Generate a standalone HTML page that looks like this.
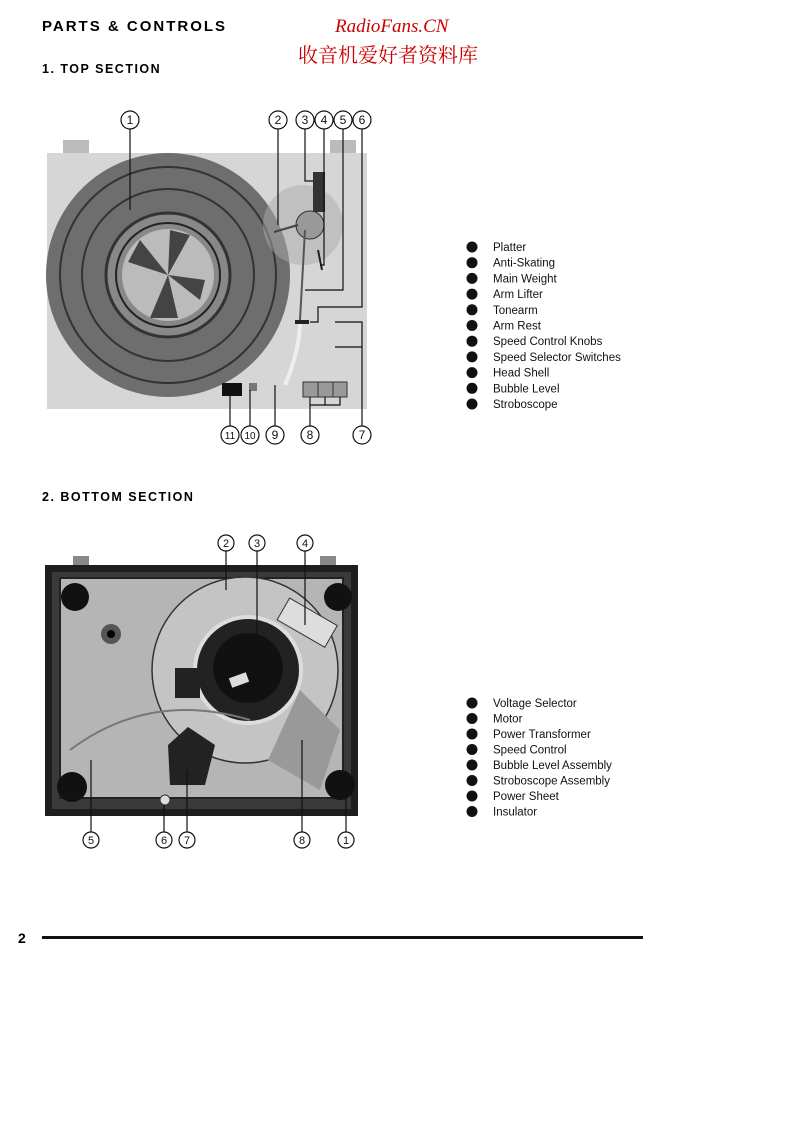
<!DOCTYPE html>
<html><head><meta charset="utf-8"><style>
body{margin:0;background:#fff;width:793px;height:1122px;overflow:hidden;position:relative;font-family:"Liberation Sans",sans-serif}
.t{position:absolute;white-space:nowrap}
</style></head><body>
<div class="t" style="left:42px;top:18px;font-size:15px;font-weight:bold;letter-spacing:2px">PARTS &amp; CONTROLS</div>
<div class="t" style="left:42px;top:62px;font-size:12.5px;font-weight:bold;letter-spacing:1.5px">1. TOP SECTION</div>
<div class="t" style="left:335px;top:16px;font-size:19px;font-style:italic;color:#c00;font-family:'Liberation Serif',serif">RadioFans.CN</div>
<div class="t" style="left:298px;top:39px;font-size:20px;color:#c00;font-family:'Liberation Serif','Noto Serif CJK SC',serif">收音机爱好者资料库</div>
<div class="t" style="left:42px;top:490px;font-size:12.5px;font-weight:bold;letter-spacing:1.5px">2. BOTTOM SECTION</div>
<div class="t" style="left:18px;top:930px;font-size:14px;font-weight:bold">2</div>
<div style="position:absolute;left:42px;top:936px;width:601px;height:3px;background:#111"></div>

<svg width="793" height="1122" style="position:absolute;left:0;top:0" font-family="Liberation Sans, sans-serif">
<rect x="63" y="140" width="26" height="16" fill="#bbb"/><rect x="330" y="140" width="26" height="16" fill="#bbb"/>
<rect x="47" y="153" width="320" height="256" fill="#d6d6d6"/>
<circle cx="168" cy="275" r="122" fill="#6e6e6e"/>
<circle cx="168" cy="275" r="108" fill="none" stroke="#333" stroke-width="2"/>
<circle cx="168" cy="275" r="86" fill="none" stroke="#333" stroke-width="2"/>
<circle cx="168" cy="275" r="62" fill="#888" stroke="#333" stroke-width="3"/>
<circle cx="168" cy="275" r="46" fill="#bbb"/>
<path d="M168 275 L140 240 L128 262Z M168 275 L200 300 L205 280Z M168 275 L150 318 L178 318Z M168 275 L190 235 L170 230Z" fill="#444"/>
<circle cx="168" cy="275" r="52" fill="none" stroke="#222" stroke-width="2"/>
<circle cx="303" cy="225" r="40" fill="#aaa" opacity=".5"/>
<rect x="313" y="172" width="12" height="40" fill="#333"/>
<circle cx="310" cy="225" r="14" fill="#999" stroke="#333"/>
<line x1="305" y1="230" x2="300" y2="320" stroke="#555" stroke-width="2"/>
<path d="M300 320 Q300 350 285 385" stroke="#eee" stroke-width="4" fill="none"/>
<line x1="274" y1="232" x2="298" y2="225" stroke="#444" stroke-width="2"/>
<line x1="318" y1="250" x2="322" y2="270" stroke="#222" stroke-width="2"/>
<rect x="295" y="320" width="14" height="4" fill="#222"/>
<rect x="222" y="383" width="20" height="13" fill="#111"/><rect x="249" y="383" width="8" height="8" fill="#777"/>
<rect x="303" y="382" width="44" height="15" fill="#999" stroke="#333"/>
<line x1="318" y1="382" x2="318" y2="397" stroke="#333"/><line x1="333" y1="382" x2="333" y2="397" stroke="#333"/>
<g stroke="#111" fill="none" stroke-width="1.2">
<line x1="130" y1="129" x2="130" y2="210"/>
<line x1="278" y1="129" x2="278" y2="225"/>
<polyline points="305,129 305,181 313,181"/>
<polyline points="324,129 324,265 320,265"/>
<polyline points="343,129 343,290 305,290"/>
<polyline points="362,129 362,307 318,307 318,322 310,322"/>
<polyline points="335,322 362,322 362,426"/><line x1="335" y1="347" x2="362" y2="347"/>
<line x1="230" y1="395" x2="230" y2="426"/><line x1="250" y1="390" x2="250" y2="426"/>
<line x1="275" y1="385" x2="275" y2="426"/>
<polyline points="310,397 310,405 310,426"/><polyline points="310,405 340,405 340,397"/><line x1="325" y1="397" x2="325" y2="405"/>
</g>
<g fill="#fff" stroke="#111" stroke-width="1.2">
<circle cx="130" cy="120" r="9"/><circle cx="278" cy="120" r="9"/><circle cx="305" cy="120" r="9"/><circle cx="324" cy="120" r="9"/><circle cx="343" cy="120" r="9"/><circle cx="362" cy="120" r="9"/>
<circle cx="230" cy="435" r="9"/><circle cx="250" cy="435" r="9"/><circle cx="275" cy="435" r="9"/><circle cx="310" cy="435" r="9"/><circle cx="362" cy="435" r="9"/>
<circle cx="226" cy="543" r="8"/><circle cx="257" cy="543" r="8"/><circle cx="305" cy="543" r="8"/>
<circle cx="91" cy="840" r="8"/><circle cx="164" cy="840" r="8"/><circle cx="187" cy="840" r="8"/><circle cx="302" cy="840" r="8"/><circle cx="346" cy="840" r="8"/>
</g>
<g font-size="12" text-anchor="middle" fill="#111">
<text x="130" y="124">1</text><text x="278" y="124">2</text><text x="305" y="124">3</text><text x="324" y="124">4</text><text x="343" y="124">5</text><text x="362" y="124">6</text>
<text x="230" y="439" font-size="10">11</text><text x="250" y="439" font-size="10">10</text><text x="275" y="439">9</text><text x="310" y="439">8</text><text x="362" y="439">7</text>
<text x="226" y="547" font-size="11">2</text><text x="257" y="547" font-size="11">3</text><text x="305" y="547" font-size="11">4</text>
<text x="91" y="844" font-size="11">5</text><text x="164" y="844" font-size="11">6</text><text x="187" y="844" font-size="11">7</text><text x="302" y="844" font-size="11">8</text><text x="346" y="844" font-size="11">1</text>
</g>
<rect x="73" y="556" width="16" height="10" fill="#888"/><rect x="320" y="556" width="16" height="10" fill="#888"/>
<rect x="45" y="565" width="313" height="251" fill="#1e1e1e"/>
<rect x="52" y="572" width="299" height="237" fill="#3a3a3a"/>
<rect x="60" y="578" width="283" height="220" fill="#b5b5b5"/>
<rect x="60" y="578" width="283" height="220" fill="none" stroke="#222" stroke-width="2"/>
<circle cx="75" cy="597" r="14" fill="#111"/><circle cx="338" cy="597" r="14" fill="#111"/>
<circle cx="72" cy="787" r="15" fill="#111"/><circle cx="340" cy="785" r="15" fill="#111"/>
<circle cx="111" cy="634" r="10" fill="#555"/><circle cx="111" cy="634" r="4" fill="#000"/>
<circle cx="245" cy="670" r="93" fill="#c4c4c4" stroke="#333" stroke-width="1.5"/>
<circle cx="248" cy="670" r="53" fill="#222" stroke="#ddd" stroke-width="4"/>
<circle cx="248" cy="668" r="35" fill="#111"/>
<rect x="175" y="668" width="25" height="30" fill="#222"/>
<rect x="230" y="675" width="18" height="10" fill="#ddd" transform="rotate(-20 239 680)"/>
<rect x="280" y="610" width="55" height="25" fill="#ddd" stroke="#333" transform="rotate(30 307 622)"/>
<path d="M168 745 L188 727 L215 745 L205 785 L170 785Z" fill="#222"/>
<path d="M268 760 L300 690 L340 730 L320 790Z" fill="#999"/>
<circle cx="165" cy="800" r="5" fill="#ddd" stroke="#333"/>
<path d="M70 750 Q150 690 250 720" stroke="#777" stroke-width="2" fill="none"/>
<g stroke="#111" stroke-width="1.2"><line x1="226" y1="551" x2="226" y2="590"/><line x1="257" y1="551" x2="257" y2="670"/><line x1="305" y1="551" x2="305" y2="625"/>
<line x1="91" y1="832" x2="91" y2="760"/><line x1="164" y1="832" x2="164" y2="805"/><line x1="187" y1="832" x2="187" y2="770"/><line x1="302" y1="832" x2="302" y2="740"/><line x1="346" y1="832" x2="346" y2="795"/></g>
<g fill="#111">
<circle cx="472" cy="247" r="5.5"/><circle cx="472" cy="262.7" r="5.5"/><circle cx="472" cy="278.4" r="5.5"/><circle cx="472" cy="294.1" r="5.5"/><circle cx="472" cy="309.8" r="5.5"/><circle cx="472" cy="325.5" r="5.5"/><circle cx="472" cy="341.2" r="5.5"/><circle cx="472" cy="356.9" r="5.5"/><circle cx="472" cy="372.6" r="5.5"/><circle cx="472" cy="388.3" r="5.5"/><circle cx="472" cy="404" r="5.5"/>
<circle cx="472" cy="703" r="5.5"/><circle cx="472" cy="718.5" r="5.5"/><circle cx="472" cy="734" r="5.5"/><circle cx="472" cy="749.5" r="5.5"/><circle cx="472" cy="765" r="5.5"/><circle cx="472" cy="780.5" r="5.5"/><circle cx="472" cy="796" r="5.5"/><circle cx="472" cy="811.5" r="5.5"/>
</g>
<g fill="#111" font-size="11.5">
<text x="493" y="251">Platter</text><text x="493" y="266.7">Anti-Skating</text><text x="493" y="282.4">Main  Weight</text><text x="493" y="298.1">Arm  Lifter</text><text x="493" y="313.8">Tonearm</text><text x="493" y="329.5">Arm  Rest</text><text x="493" y="345.2">Speed  Control  Knobs</text><text x="493" y="360.9">Speed  Selector  Switches</text><text x="493" y="376.6">Head  Shell</text><text x="493" y="392.3">Bubble  Level</text><text x="493" y="408">Stroboscope</text>
<text x="493" y="707">Voltage  Selector</text><text x="493" y="722.5">Motor</text><text x="493" y="738">Power  Transformer</text><text x="493" y="753.5">Speed  Control</text><text x="493" y="769">Bubble  Level  Assembly</text><text x="493" y="784.5">Stroboscope  Assembly</text><text x="493" y="800">Power  Sheet</text><text x="493" y="815.5">Insulator</text>
</g>
</svg>
</body></html>
